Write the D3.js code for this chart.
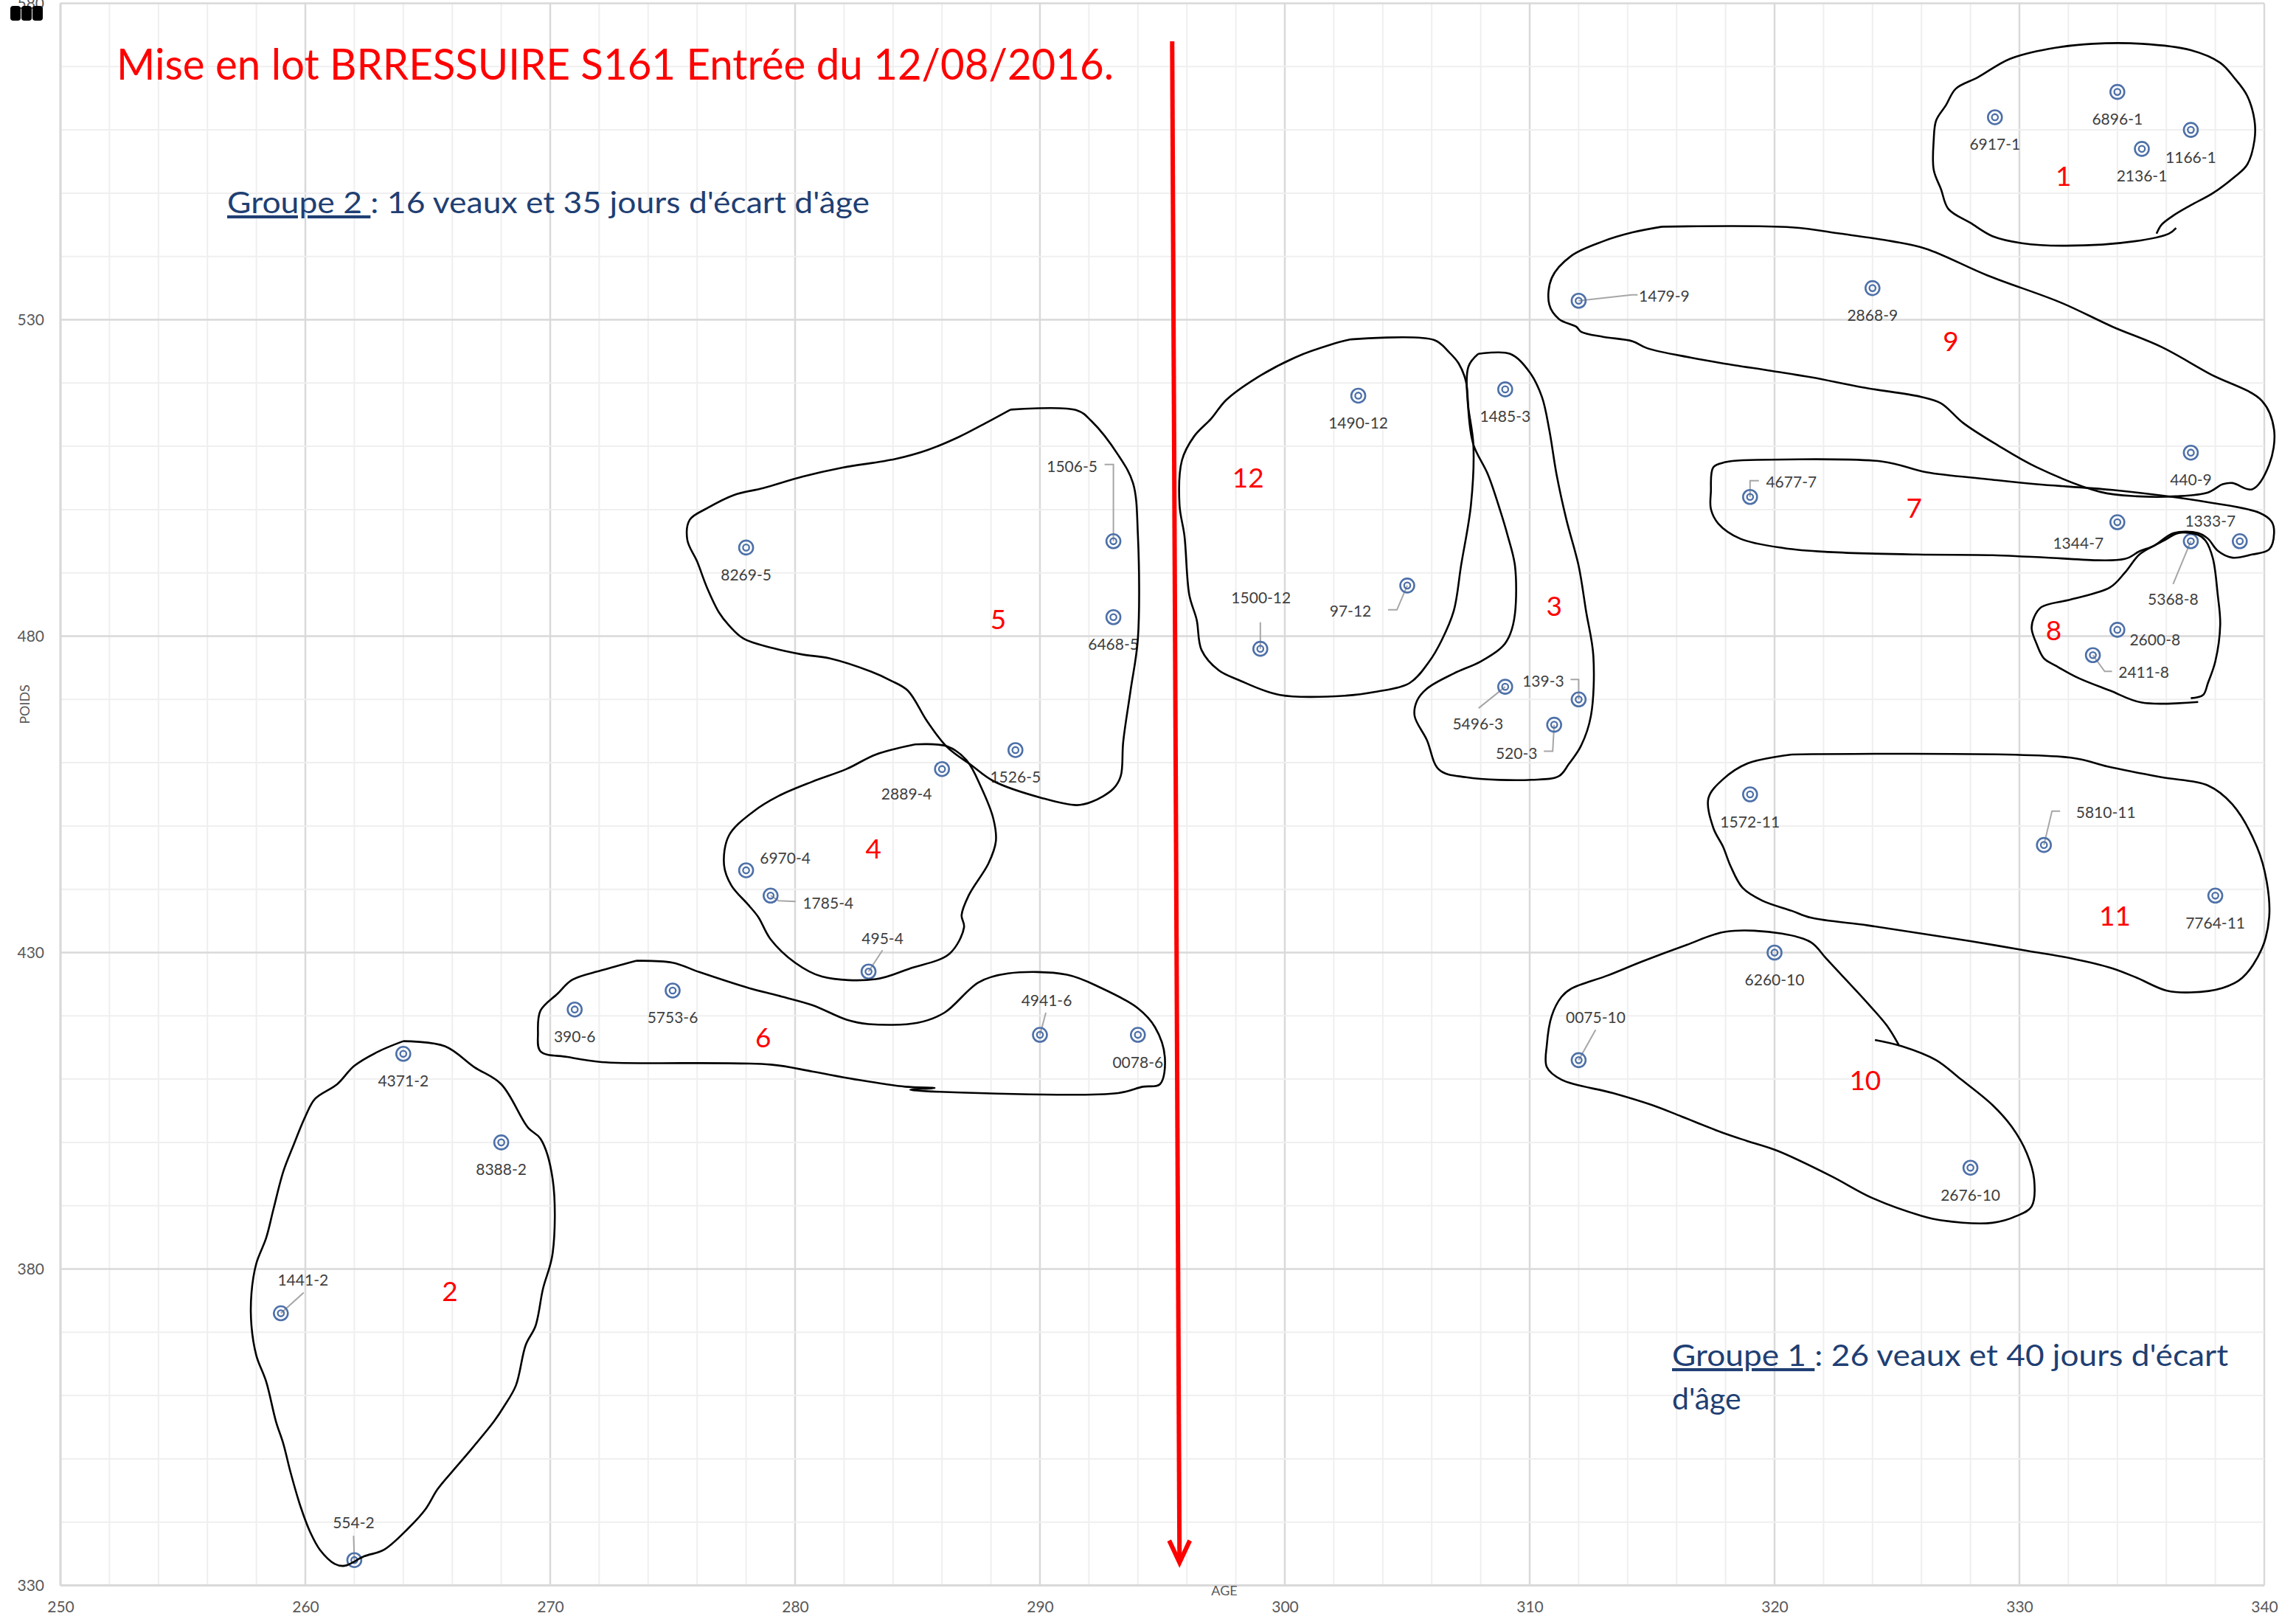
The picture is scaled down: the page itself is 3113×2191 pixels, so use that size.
<!DOCTYPE html>
<html>
<head>
<meta charset="utf-8">
<script src="https://cdn.jsdelivr.net/npm/d3@7"></script>
<style>
  body { margin: 0; background: #fff; }
  svg { display: block; }
</style>
</head>
<body>
<div id="chart"></div>
<script>
// Mise en lot - POIDS / AGE, veaux groupés en lots (cercles dessinés à la main)

var width = 3113;
var height = 2191;

// ---- data ----
var calfIds = ["6917-1", "6896-1", "2136-1", "1166-1",
  "4371-2", "8388-2", "1441-2", "554-2",
  "1485-3", "5496-3", "139-3", "520-3",
  "2889-4", "6970-4", "1785-4", "495-4",
  "8269-5", "1506-5", "6468-5", "1526-5",
  "390-6", "5753-6", "4941-6", "0078-6",
  "4677-7", "1344-7", "1333-7",
  "5368-8", "2600-8", "2411-8",
  "1479-9", "2868-9", "440-9",
  "6260-10", "0075-10", "2676-10",
  "1572-11", "5810-11", "7764-11",
  "1490-12", "1500-12", "97-12"];
var ages = [329, 334, 335, 337,
  264, 268, 259, 262,
  309, 309, 312, 311,
  286, 278, 279, 283,
  278, 293, 293, 289,
  271, 275, 290, 294,
  319, 334, 339,
  337, 334, 333,
  312, 324, 337,
  320, 312, 328,
  319, 331, 338,
  303, 299, 305];
var weights = [562, 566, 557, 560,
  414, 400, 373, 334,
  519, 472, 470, 466,
  459, 443, 439, 427,
  494, 495, 483, 462,
  421, 424, 417, 417,
  502, 498, 495,
  495, 481, 477,
  533, 535, 509,
  430, 413, 396,
  455, 447, 439,
  518, 478, 488];

var xTicks = d3.range(250, 341, 10);
var yTicks = d3.range(330, 581, 50);

// lot numbers (written in red on the chart), in AGE / POIDS units
var lotNames = ["1", "2", "3", "4", "5", "6", "7", "8", "9", "10", "11", "12"];
var lotAge = [331.8, 265.9, 311.0, 283.2, 288.3, 278.7, 325.7, 331.4, 327.2, 323.7, 333.9, 298.5];
var lotWeight = [552.8, 376.6, 484.9, 446.5, 482.8, 416.7, 500.4, 481.0, 526.7, 409.9, 436.0, 505.2];

// hand drawn outlines, [age, poids]
var outline1 = [[335.6,543.6],[335.8,545.0],[336.3,546.5],[337.0,548.1],[337.9,550.0],[338.8,552.6],[339.3,554.5],[339.6,558.4],[339.6,561.5],[339.3,565.4],[338.8,568.1],[338.2,570.6],[337.0,572.6],[335.0,573.6],[333.0,573.6],[331.2,572.8],[329.6,571.2],[328.3,568.3],[327.4,566.5],[327.0,563.9],[326.6,561.5],[326.5,558.4],[326.5,553.7],[326.8,550.6],[327.1,547.5],[328.0,545.3],[328.9,543.2],[330.1,542.1],[331.9,541.7],[334.7,542.4],[336.1,543.6],[336.4,544.5]];
var outline2 = [[264.0,416.0],[265.7,415.2],[266.9,411.9],[268.0,409.2],[269.1,402.3],[269.6,400.6],[270.1,394.2],[270.1,382.5],[269.7,376.8],[269.4,371.0],[269.0,368.0],[268.6,361.6],[268.1,358.2],[267.7,355.9],[266.6,350.7],[266.0,348.0],[265.4,345.2],[264.9,342.0],[264.2,339.0],[263.2,335.6],[262.4,334.6],[261.6,333.1],[261.2,333.4],[260.6,335.6],[260.2,338.4],[259.8,342.5],[259.4,347.8],[259.1,352.4],[258.8,355.9],[258.4,362.2],[258.0,366.3],[257.8,371.0],[257.8,376.2],[258.0,380.9],[258.4,384.9],[258.7,389.5],[259.1,395.4],[259.5,399.4],[260.0,404.1],[260.4,406.9],[261.3,409.2],[262.0,412.1],[263.0,414.4],[264.0,416.0]];
var outline3 = [[307.9,524.6],[309.2,524.6],[310.0,521.7],[310.5,517.8],[310.8,512.6],[311.1,505.5],[311.5,498.4],[312.0,491.1],[312.3,484.0],[312.6,476.9],[312.5,467.4],[312.1,462.7],[311.6,459.8],[311.2,457.9],[310.1,457.3],[307.4,457.7],[306.3,458.9],[305.8,463.6],[305.3,467.4],[305.4,469.8],[305.8,471.7],[306.9,474.1],[308.0,476.0],[308.9,478.4],[309.2,480.3],[309.4,483.6],[309.4,491.1],[309.1,495.9],[308.8,499.8],[308.3,505.5],[307.7,510.3],[307.5,515.5],[307.5,522.6],[307.9,524.6]];
var outline4 = [[284.9,462.9],[286.2,462.6],[287.0,460.4],[287.6,456.1],[288.1,451.1],[288.2,447.6],[287.9,444.1],[287.1,439.1],[286.8,435.9],[286.9,434.0],[286.3,429.8],[284.7,427.5],[283.3,425.8],[281.1,426.2],[280.0,428.4],[279.0,432.1],[278.5,435.6],[278.1,437.5],[277.4,440.6],[277.1,443.8],[277.3,448.5],[278.3,452.3],[279.3,454.7],[280.7,457.0],[282.1,459.0],[283.3,461.3],[284.9,462.9]];
var outline5 = [[288.8,515.8],[291.5,515.7],[292.1,514.0],[293.2,508.6],[293.8,504.2],[294.0,496.0],[294.0,479.6],[293.7,471.4],[293.4,463.3],[293.3,457.9],[293.0,455.9],[292.1,453.8],[291.5,453.3],[290.1,454.4],[288.1,457.1],[287.2,459.6],[286.2,462.5],[285.4,466.5],[284.6,471.4],[283.9,473.0],[283.1,474.4],[281.4,476.5],[280.3,477.1],[279.1,478.1],[277.9,479.6],[277.3,481.7],[276.9,483.7],[276.4,487.7],[276.0,491.8],[275.6,495.2],[275.7,498.4],[276.4,500.2],[277.5,502.3],[278.7,503.4],[280.3,505.2],[281.9,506.6],[284.1,508.0],[285.4,509.4],[286.7,511.5],[287.7,513.5],[288.8,515.8]];
var outline6 = [[273.5,428.7],[275.0,428.4],[276.1,426.9],[278.1,424.4],[279.3,423.2],[280.7,421.7],[282.1,419.4],[283.0,418.7],[285.0,418.9],[286.1,420.5],[287.5,425.3],[288.7,426.7],[291.1,426.5],[292.5,424.4],[294.0,421.2],[294.7,418.2],[295.1,413.5],[294.9,409.2],[294.2,408.8],[293.2,407.8],[285.9,408.0],[284.7,408.3],[285.7,408.6],[284.5,408.8],[282.4,410.0],[280.7,411.2],[279.0,412.3],[272.1,412.7],[270.7,413.5],[269.6,414.4],[269.5,417.3],[269.6,420.8],[270.3,423.5],[270.9,425.7],[272.1,427.2],[273.5,428.7]];
var outline7 = [[318.7,507.8],[324.4,507.6],[326.2,505.9],[328.7,504.8],[330.7,504.0],[333.8,503.1],[337.8,501.1],[339.8,499.5],[340.3,498.1],[340.4,496.3],[340.2,493.7],[339.5,492.9],[338.7,492.4],[338.1,493.5],[337.7,495.4],[337.3,496.3],[336.3,496.3],[335.5,494.3],[334.9,493.4],[334.3,492.2],[330.7,492.5],[328.9,492.8],[325.8,492.9],[322.2,493.3],[320.4,493.9],[318.6,495.4],[317.7,497.8],[317.4,500.1],[317.4,502.8],[317.5,506.7],[318.0,507.5],[318.7,507.8]];
var outline8 = [[337.0,470.2],[337.5,470.7],[337.7,472.6],[338.0,476.0],[338.2,481.8],[338.1,486.5],[337.9,492.3],[337.6,495.1],[337.3,496.0],[336.5,496.3],[335.9,495.1],[335.5,494.3],[334.9,492.9],[334.3,490.0],[333.7,487.7],[332.1,485.8],[330.9,484.6],[330.6,483.0],[330.5,481.2],[330.7,478.8],[331.0,476.5],[331.5,475.3],[332.4,473.4],[333.7,471.4],[335.0,469.5],[337.3,469.6]];
var outline9 = [[315.4,544.7],[320.7,544.6],[322.7,543.6],[324.8,542.4],[326.2,541.2],[328.7,537.0],[331.7,532.7],[333.8,528.9],[335.8,525.7],[337.8,521.4],[339.9,517.2],[340.4,512.6],[340.2,507.1],[339.5,503.2],[338.7,504.2],[338.3,504.0],[337.7,502.7],[336.4,502.1],[334.8,502.1],[333.3,502.8],[330.7,506.7],[329.1,510.2],[327.7,513.7],[326.8,516.8],[326.0,517.8],[323.6,519.3],[321.5,520.9],[319.9,521.9],[317.9,523.1],[316.6,524.0],[314.8,525.5],[314.2,526.6],[313.0,527.3],[312.1,528.1],[311.9,528.9],[311.2,530.1],[310.8,532.4],[310.9,536.6],[311.7,540.1],[313.0,542.4],[314.2,543.8],[315.4,544.7]];
var outline10 = [[324.1,416.2],[325.2,415.2],[326.6,413.0],[327.6,410.0],[328.9,405.9],[329.7,402.4],[330.3,398.3],[330.6,394.2],[330.5,389.9],[329.9,388.4],[328.9,387.3],[326.8,387.7],[326.0,388.4],[324.0,391.2],[322.3,394.7],[320.1,398.7],[318.9,400.2],[317.9,401.5],[316.2,404.1],[315.0,405.9],[313.4,407.8],[311.3,409.9],[310.7,411.9],[310.7,415.4],[310.9,420.0],[311.3,423.0],[311.7,424.3],[313.2,426.4],[314.6,428.6],[316.4,431.2],[318.0,433.3],[320.3,433.0],[321.5,431.6],[322.1,429.1],[322.7,426.6],[323.8,422.0],[324.6,418.4],[325.1,415.2]];
var outline11 = [[320.7,461.3],[332.1,460.8],[333.6,459.4],[335.8,457.7],[337.7,456.4],[338.7,453.4],[339.7,446.7],[340.1,441.2],[340.2,435.6],[339.9,430.6],[339.1,426.0],[338.3,424.4],[337.0,423.7],[336.0,424.0],[334.8,426.0],[333.8,427.5],[332.1,429.1],[330.3,430.3],[328.0,431.8],[326.0,433.0],[323.8,434.3],[321.5,435.5],[320.7,436.6],[319.5,438.2],[318.7,440.2],[318.2,443.7],[317.9,446.7],[317.5,449.7],[317.3,454.4],[317.9,457.4],[318.9,459.9],[320.7,461.3]];
var outline12 = [[302.7,526.9],[306.1,526.8],[306.7,524.9],[307.1,523.1],[307.4,520.2],[307.5,516.0],[307.7,510.3],[307.6,500.7],[307.2,491.2],[306.9,484.0],[306.4,479.3],[305.9,476.0],[305.1,472.6],[303.7,471.2],[302.5,470.6],[299.8,470.7],[298.1,473.1],[297.3,474.6],[296.6,477.8],[296.4,482.6],[296.1,486.5],[295.9,495.9],[295.7,500.7],[295.8,507.8],[296.3,511.6],[297.0,514.4],[297.6,517.3],[298.8,520.7],[300.4,524.0],[301.9,526.1],[302.7,526.9]];
var outlines = [outline1, outline2, outline3, outline4, outline5, outline6,
  outline7, outline8, outline9, outline10, outline11, outline12];

// red dividing arrow, [age, poids]
var arrowLine = [[295.4, 574.0], [295.7, 333.6]];

// ---- layout (pixels) ----
var labelDefault = {dx: 0, dy: 36};
var labelLayout = {
  "1479-9": {dx: 116, dy: -7, leader: [[0, 0], [72, -8], [80, -8]]},
  "4677-7": {dx: 56, dy: -21, leader: [[0, 0], [0, -22], [12, -22]]},
  "1344-7": {dx: -53, dy: 27},
  "1333-7": {dx: -40, dy: -28},
  "5368-8": {dx: -24, dy: 78, leader: [[0, 0], [-24, 58]]},
  "2600-8": {dx: 51, dy: 13},
  "2411-8": {dx: 69, dy: 22, leader: [[0, 0], [16, 22], [26, 22]]},
  "1506-5": {dx: -56, dy: -102, leader: [[0, 0], [0, -104], [-12, -104]]},
  "1500-12": {dx: 1, dy: -70, leader: [[0, 0], [0, -36]]},
  "97-12": {dx: -77, dy: 34, leader: [[0, 0], [-14, 33], [-26, 33]]},
  "5496-3": {dx: -37, dy: 49, leader: [[0, 0], [-36, 29]]},
  "139-3": {dx: -48, dy: -26, leader: [[0, 0], [0, -27], [-11, -27]]},
  "520-3": {dx: -51, dy: 38, leader: [[0, 0], [-2, 36], [-14, 36]]},
  "2889-4": {dx: -48, dy: 33},
  "6970-4": {dx: 53, dy: -17},
  "1785-4": {dx: 78, dy: 9, leader: [[0, 0], [11, 7], [34, 8]]},
  "495-4": {dx: 19, dy: -46, leader: [[0, 0], [19, -29]]},
  "4941-6": {dx: 9, dy: -48, leader: [[0, 0], [8, -30]]},
  "1441-2": {dx: 30, dy: -46, leader: [[0, 0], [31, -28]]},
  "554-2": {dx: -1, dy: -52, leader: [[0, 0], [-1, -33]]},
  "5810-11": {dx: 84, dy: -45, leader: [[0, 0], [11, -46], [22, -46]]},
  "0075-10": {dx: 23, dy: -59, leader: [[0, 0], [23, -41]]}
};

var font = "Lato, 'Open Sans', sans-serif";

var svg = d3.select("#chart")
    .append("svg")
    .attr("width", width)
    .attr("height", height)
    .style("font-family", font);

svg.append("rect").attr("width", width).attr("height", height).attr("fill", "#fff");

var x = d3.scaleLinear().domain([250, 340]).range([82, 3070]);
var y = d3.scaleLinear().domain([330, 580]).range([2149.5, 4.5]);

// gridlines (major every 10 days / every 50 kg from 330)
var grid = svg.append("g");
d3.range(250, 341, 2).forEach(function (v) {
    var major = (v - 250) % 10 === 0;
    grid.append("line")
        .attr("x1", x(v)).attr("x2", x(v))
        .attr("y1", y(580)).attr("y2", y(330))
        .style("stroke", major ? "#d9d9d9" : "#efefef")
        .style("stroke-width", major ? 2.5 : 2);
});
d3.range(330, 581, 10).forEach(function (v) {
    var major = (v - 330) % 50 === 0;
    grid.append("line")
        .attr("x1", x(250)).attr("x2", x(340))
        .attr("y1", y(v)).attr("y2", y(v))
        .style("stroke", major ? "#d9d9d9" : "#efefef")
        .style("stroke-width", major ? 2.5 : 2);
});
grid.append("line")
    .attr("x1", x(250)).attr("x2", x(340)).attr("y1", y(330)).attr("y2", y(330))
    .style("stroke", "#d9d9d9").style("stroke-width", 3);
grid.append("line")
    .attr("x1", x(250)).attr("x2", x(250)).attr("y1", y(580)).attr("y2", y(330))
    .style("stroke", "#d9d9d9").style("stroke-width", 3);

// axes
var xAxis = svg.append("g")
    .attr("transform", "translate(0," + y(330) + ")")
    .call(d3.axisBottom(x).tickValues(xTicks).tickSize(0).tickPadding(22));
var yAxis = svg.append("g")
    .attr("transform", "translate(" + x(250) + ",0)")
    .call(d3.axisLeft(y).tickValues(yTicks).tickSize(0).tickPadding(22));
[xAxis, yAxis].forEach(function (a) {
    a.select(".domain").remove();
    a.selectAll("text")
        .style("font-family", font)
        .style("font-size", "21px")
        .style("fill", "#595959");
});

svg.append("text")
    .attr("x", 1660).attr("y", 2163)
    .attr("text-anchor", "middle")
    .style("font-size", "18px").style("fill", "#595959")
    .text("AGE");
svg.append("text")
    .attr("transform", "translate(40,955) rotate(-90)")
    .attr("text-anchor", "middle")
    .style("font-size", "18px").style("fill", "#595959")
    .text("POIDS");

// odd black blobs over the top tick label
[14, 29, 44].forEach(function (bx) {
    svg.append("rect")
        .attr("x", bx).attr("y", 8)
        .attr("width", 14).attr("height", 20)
        .attr("rx", 4)
        .attr("fill", "#000");
});

// points
var pts = calfIds.map(function (id, i) {
    return {id: id, age: ages[i], poids: weights[i]};
});

var leaderLine = d3.line();
pts.forEach(function (d) {
    var lay = labelLayout[d.id] || labelDefault;
    if (lay.leader) {
        svg.append("path")
            .attr("d", leaderLine(lay.leader.map(function (p) {
                return [x(d.age) + p[0], y(d.poids) + p[1]];
            })))
            .style("fill", "none")
            .style("stroke", "#a6a6a6")
            .style("stroke-width", 2);
    }
});

var marks = svg.append("g");
marks.selectAll(".outer").data(pts).enter().append("circle")
    .attr("cx", function (d) { return x(d.age); })
    .attr("cy", function (d) { return y(d.poids); })
    .attr("r", 9.5)
    .style("fill", "none")
    .style("stroke", "#4d70a8")
    .style("stroke-width", 2.6);
marks.selectAll(".inner").data(pts).enter().append("circle")
    .attr("cx", function (d) { return x(d.age); })
    .attr("cy", function (d) { return y(d.poids); })
    .attr("r", 4.2)
    .style("fill", "none")
    .style("stroke", "#4d70a8")
    .style("stroke-width", 2.3);

svg.append("g").selectAll("text").data(pts).enter().append("text")
    .attr("x", function (d) { return x(d.age) + (labelLayout[d.id] || labelDefault).dx; })
    .attr("y", function (d) { return y(d.poids) + (labelLayout[d.id] || labelDefault).dy; })
    .attr("text-anchor", "middle")
    .attr("dominant-baseline", "central")
    .style("font-size", "21px")
    .style("fill", "#404040")
    .text(function (d) { return d.id; });

// hand drawn outlines
var outlinePath = d3.line()
    .x(function (p) { return x(p[0]); })
    .y(function (p) { return y(p[1]); })
    .curve(d3.curveCatmullRom.alpha(0.5));
svg.append("g").selectAll("path").data(outlines).enter().append("path")
    .attr("d", outlinePath)
    .style("fill", "none")
    .style("stroke", "#000")
    .style("stroke-width", 2.6)
    .style("stroke-linejoin", "round");

// lot numbers
svg.append("g").selectAll("text").data(lotNames).enter().append("text")
    .attr("x", function (d, i) { return x(lotAge[i]); })
    .attr("y", function (d, i) { return y(lotWeight[i]); })
    .attr("text-anchor", "middle")
    .attr("dominant-baseline", "central")
    .style("font-size", "37px")
    .style("fill", "#ff0000")
    .text(function (d) { return d; });

// red arrow
var ax1 = x(arrowLine[0][0]), ay1 = y(arrowLine[0][1]);
var ax2 = x(arrowLine[1][0]), ay2 = y(arrowLine[1][1]);
svg.append("line")
    .attr("x1", ax1).attr("y1", ay1).attr("x2", ax2).attr("y2", ay2 - 4)
    .style("stroke", "#ff0000").style("stroke-width", 6);
svg.append("path")
    .attr("d", "M" + (ax2 - 14) + "," + (ay2 - 30) + "L" + ax2 + "," + ay2 + "L" + (ax2 + 14) + "," + (ay2 - 30))
    .style("fill", "none").style("stroke", "#ff0000").style("stroke-width", 6)
    .style("stroke-linejoin", "miter");

// titles
svg.append("text")
    .attr("x", 158).attr("y", 108)
    .attr("textLength", 1352).attr("lengthAdjust", "spacingAndGlyphs")
    .style("font-size", "58px").style("fill", "#ff0000")
    .text("Mise en lot BRRESSUIRE S161 Entrée du 12/08/2016.");

var g2 = svg.append("text")
    .attr("x", 308).attr("y", 289)
    .attr("textLength", 871).attr("lengthAdjust", "spacingAndGlyphs")
    .style("font-size", "41px").style("fill", "#1f3f73");
g2.append("tspan").style("text-decoration", "underline").text("Groupe 2 ");
g2.append("tspan").text(": 16 veaux et 35 jours d'écart d'âge");

var g1 = svg.append("text")
    .attr("x", 2267).attr("y", 1852)
    .attr("textLength", 754).attr("lengthAdjust", "spacingAndGlyphs")
    .style("font-size", "41px").style("fill", "#1f3f73");
g1.append("tspan").style("text-decoration", "underline").text("Groupe 1 ");
g1.append("tspan").text(": 26 veaux et 40 jours d'écart");
svg.append("text")
    .attr("x", 2267).attr("y", 1911)
    .style("font-size", "41px").style("fill", "#1f3f73")
    .text("d'âge");
</script>
</body>
</html>
